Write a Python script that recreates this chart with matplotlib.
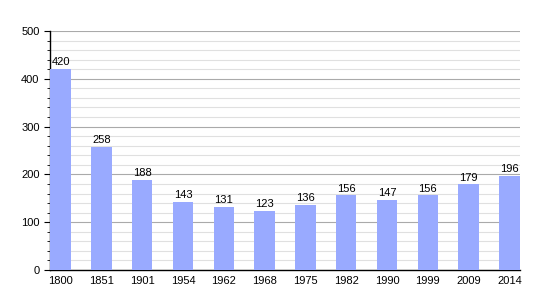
import matplotlib
matplotlib.use("Agg")
import matplotlib.pyplot as plt
import numpy as np

years = ["1800", "1851", "1901", "1954", "1962", "1968", "1975", "1982", "1990", "1999", "2009", "2014"]
population = [420, 258, 188, 143, 131, 123, 136, 156, 147, 156, 179, 196]

plt.rcParams['font.family'] = ['Liberation Sans', 'DejaVu Sans']

fig = plt.figure(figsize=(5.5, 3.0), dpi=100)
ax = fig.add_axes([50 / 550, 30 / 300, 470 / 550, 239 / 300])

x = np.arange(len(years))
ax.bar(x, population, width=0.5, color="#99aaff", zorder=3)
for xi, v in zip(x, population):
    ax.text(xi, v + 4, str(v), ha="center", va="bottom", fontsize=8, zorder=4)

ax.set_xlim(-0.26, 11.26)
ax.set_ylim(0, 500)
ax.set_xticks(x)
ax.set_xticklabels(years, fontsize=8)
ax.set_yticks(np.arange(0, 501, 100))
ax.set_yticks(np.arange(0, 501, 20), minor=True)
ax.tick_params(axis="y", labelsize=8, length=4, direction="out")
ax.tick_params(axis="y", which="minor", length=2)
ax.tick_params(axis="x", length=0, pad=4)

ax.grid(axis="y", which="major", color="#aaaaaa", lw=0.8, zorder=0)
ax.grid(axis="y", which="minor", color="#e0e0e0", lw=0.8, zorder=0)
for s in ["top", "right"]:
    ax.spines[s].set_visible(False)
ax.spines["left"].set_linewidth(1)
ax.spines["bottom"].set_linewidth(1)

fig.savefig("out.png", dpi=100)
